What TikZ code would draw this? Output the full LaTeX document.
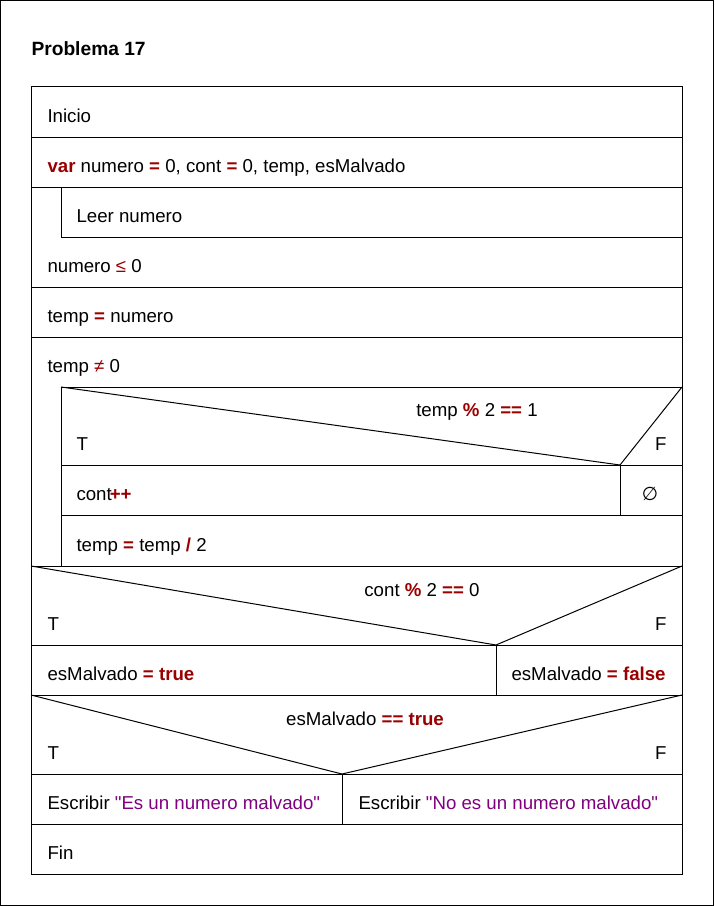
\documentclass[tikz,border=0pt]{standalone}
\usepackage{fontspec}
\newfontfamily\nsfont{Liberation Sans}
\newfontfamily\symfont{DejaVu Sans}
\usetikzlibrary{positioning}
\definecolor{kwred}{HTML}{990000}
\definecolor{strpurple}{HTML}{800080}
\newcommand{\kw}[1]{\textcolor{kwred}{\textbf{#1}}}
\newcommand{\op}[1]{\textcolor{kwred}{#1}}
\newcommand{\str}[1]{\textcolor{strpurple}{#1}}

\begin{document}
\begin{tikzpicture}[%
    x=0.75pt,
    y=-0.75pt,
    line width=0.75pt,
    every node/.style={inner sep=0pt,font=\nsfont\fontsize{14}{17}\selectfont},
    txt/.style={anchor=base west},
    rtxt/.style={anchor=base east},
    ctxt/.style={anchor=base}
    ]
    \useasboundingbox (0,0) rectangle (714,906);
    \draw (0.5,0.5) rectangle (713.5,905.5);

    \node[txt,font=\nsfont\fontsize{14.4}{17}\selectfont\bfseries] (title) at (31,56) {Problema 17};

    % cells
    \draw (31,87) rectangle (682,874);
    \draw (31,137) -- (682,137);
    \draw (31,187) -- (682,187);
    \draw (61,187) -- (61,237) -- (682,237);
    \draw (31,287) -- (682,287);
    \draw (31,337) -- (682,337);
    \draw (61,566) -- (61,387) -- (682,387);
    \draw (61,465) -- (682,465);
    \draw (620,465) -- (620,515);
    \draw (61,515) -- (682,515);
    \draw (31,566) -- (682,566);
    \draw (31,645) -- (682,645);
    \draw (496,645) -- (496,695);
    \draw (31,695) -- (682,695);
    \draw (31,774) -- (682,774);
    \draw (342,774) -- (342,824);
    \draw (31,824) -- (682,824);

    % decisions
    \coordinate (v1) at (620,465);
    \coordinate (v2) at (496,645);
    \coordinate (v3) at (342,774);
    \draw (61,387) -- (v1) -- (682,387);
    \draw (31,566) -- (v2) -- (682,566);
    \draw (31,695) -- (v3) -- (682,695);

    \node[txt] (inicio) at (47,122) {Inicio};
    \node[txt] (decl) at (47,172) {\kw{var} numero \kw{=} 0, cont \kw{=} 0, temp, esMalvado};
    \node[txt] (leer) at (76,222) {Leer numero};
    \node[txt] (repetir) at (47,272) {numero \op{≤} 0};
    \node[txt] (asig) at (47,322) {temp \kw{=} numero};
    \node[txt] (mientras) at (47,372) {temp \op{≠} 0};

    \node[ctxt] (cond1) at (477,416) {temp \kw{\%} 2 \kw{==} 1};
    \node[txt] (t1) at (76,450) {T};
    \node[rtxt] (f1) at (667,450) {F};
    \node[txt] (incr) at (76,500) {cont\kern-1.5pt\kw{++}};
    \node[ctxt] (vacio) at (650,500) {\symfont ∅};
    \node[txt] (div) at (76,551) {temp \kw{=} temp \kw{/} 2};

    \node[ctxt] (cond2) at (422,596) {cont \kw{\%} 2 \kw{==} 0};
    \node[txt] (t2) at (47,630) {T};
    \node[rtxt] (f2) at (667,630) {F};
    \node[txt] (malv) at (47,680) {esMalvado \kw{=} \kw{true}};
    \node[txt] (nomalv) at (511,680) {esMalvado \kw{=} \kw{false}};

    \node[ctxt] (cond3) at (365,725) {esMalvado \kw{==} \kw{true}};
    \node[txt] (t3) at (47,759) {T};
    \node[rtxt] (f3) at (667,759) {F};
    \node[txt] (esc1) at (47,809) {Escribir \str{"Es un numero malvado"}};
    \node[txt] (esc2) at (358,809) {Escribir \str{"No es un numero malvado"}};
    \node[txt] (fin) at (47,859) {Fin};

    \end{tikzpicture}
\end{document}
